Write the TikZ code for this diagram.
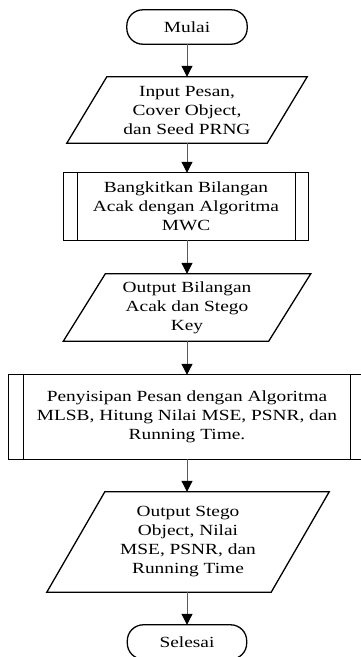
\documentclass[tikz,border=0pt]{standalone}
\usepackage{fontspec}
\setmainfont{Liberation Serif}[FakeStretch=1.25]
\usetikzlibrary{arrows.meta,calc}
\tikzset{
  txt/.style={align=center, inner sep=0pt, font=\fontsize{15.5}{19}\selectfont},
  shp/.style={draw=black, line width=1.3pt, line join=miter},
  conn/.style={draw=black!65, line width=1pt, -{Triangle[length=11pt,width=11pt,color=black]}},
}
\begin{document}
\begin{tikzpicture}[x=1pt,y=-1pt]
\useasboundingbox (0,0) rectangle (361,657);
\fill[white] (0,0) rectangle (361,657);
\clip (0,0) rectangle (361,657);

% terminal Mulai
\node[txt, minimum width=120pt, minimum height=34pt] (start) at (187,27) {Mulai};
\draw[shp, rounded corners=16pt] (start.south west) rectangle (start.north east);

% input
\node[txt, minimum width=200pt, minimum height=66pt] (inp) at (187,110) {Input Pesan,\\Cover Object,\\dan Seed PRNG};
\draw[shp] ([xshift=-20pt]inp.south west) -- ([xshift=20pt]inp.north west) -- ([xshift=20pt]inp.north east) -- ([xshift=-20pt]inp.south east) -- cycle;

% subroutine MWC
\node[txt, minimum width=244pt, minimum height=67pt] (mwc) at (186,206.5) {Bangkitkan Bilangan\\Acak dengan Algoritma\\MWC};
\draw[shp] (mwc.south west) rectangle (mwc.north east);
\draw[shp] ([xshift=14pt]mwc.south west) -- ([xshift=14pt]mwc.north west);
\draw[shp] ([xshift=-13pt]mwc.south east) -- ([xshift=-13pt]mwc.north east);

% output bilangan
\node[txt, minimum width=205pt, minimum height=67pt] (outb) at (187,307.5) {Output Bilangan\\Acak dan Stego\\Key};
\draw[shp] ([xshift=-21pt]outb.south west) -- ([xshift=21pt]outb.north west) -- ([xshift=21pt]outb.north east) -- ([xshift=-21pt]outb.south east) -- cycle;

% subroutine MLSB
\node[txt, minimum width=356pt, minimum height=84pt] (mlsb) at (187,417) {Penyisipan Pesan dengan Algoritma\\MLSB, Hitung Nilai MSE, PSNR, dan\\Running Time.};
\draw[shp] (mlsb.south west) rectangle (mlsb.north east);
\draw[shp] ([xshift=15pt]mlsb.south west) -- ([xshift=15pt]mlsb.north west);
\draw[shp] ([xshift=-15pt]mlsb.south east) -- ([xshift=-15pt]mlsb.north east);

% output stego
\node[txt, minimum width=224pt, minimum height=100pt] (outs) at (188,542) {Output Stego\\Object, Nilai\\MSE, PSNR, dan\\Running Time};
\draw[shp] ([xshift=-29pt]outs.south west) -- ([xshift=29pt]outs.north west) -- ([xshift=29pt]outs.north east) -- ([xshift=-29pt]outs.south east) -- cycle;

% terminal Selesai
\node[txt, minimum width=119pt, minimum height=34pt] (stop) at (187,642) {Selesai};
\draw[shp, rounded corners=16pt] (stop.south west) rectangle (stop.north east);

% connectors
\draw[conn] (start.south) -- (inp.north);
\draw[conn] (inp.south) -- (mwc.north -| inp.south);
\draw[conn] (mwc.south -| inp.south) -- (outb.north);
\draw[conn] (outb.south) -- (mlsb.north);
\draw[conn] (mlsb.south) -- (outs.north -| mlsb.south);
\draw[conn] (outs.south -| mlsb.south) -- (stop.north);
\end{tikzpicture}
\end{document}
